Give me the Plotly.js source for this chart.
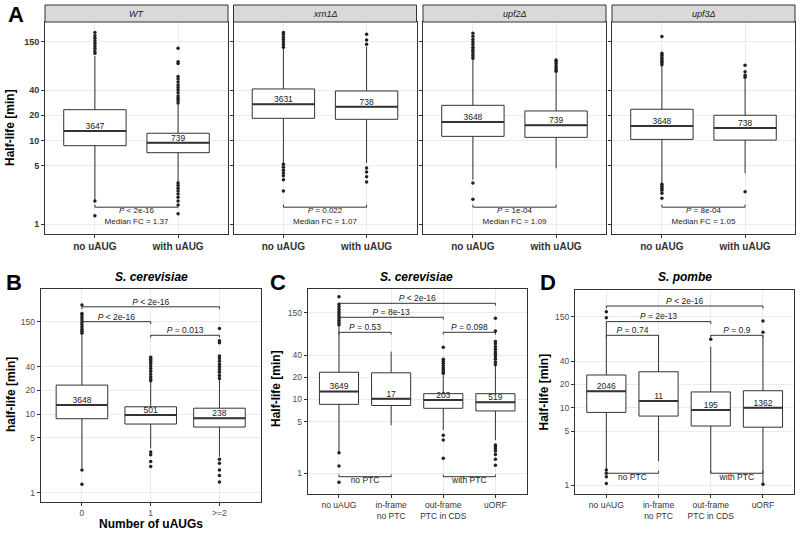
<!DOCTYPE html>
<html>
<head>
<meta charset="utf-8">
<script src="https://cdn.plot.ly/plotly-3.0.1.min.js"></script>
<style>body{margin:0;background:#fff;} #graph{width:800px;height:534px;}</style>
</head>
<body>
<div id="graph"></div>
<script>
var FONT = 'Liberation Sans, Arial, sans-serif';
var DARK = '#333333';
var GRID = '#EBEBEB';

var yTicks = [1, 5, 10, 20, 40, 150];

// panel A: uAUG vs no uAUG in four strains
var strains = ['WT', 'xrn1Δ', 'upf2Δ', 'upf3Δ'];
var catsA = ['no uAUG', 'with uAUG'];
var countsA = [[3647, 739], [3631, 738], [3648, 739], [3648, 738]];
var q1A = [[8.67, 7.15], [18.4, 17.9], [11.2, 10.9], [10.3, 10.1]];
var medA = [[13.0, 9.4], [27, 25.3], [16.6, 15.2], [14.9, 14.1]];
var q3A = [[23.3, 12.2], [41.2, 39], [26.3, 22.5], [23.6, 20]];
var loA = [[1.95, 3.2], [5.35, 5.4], [3.4, 4.66], [3.1, 4.06]];
var hiA = [[102, 27], [125, 132], [93, 65], [79, 55]];
var outA = [
    [[110, 117, 126, 135, 145, 155, 166, 178, 195, 1.89, 1.26],
     [28, 30, 32, 34, 37, 40, 43, 46, 50, 54, 58, 83, 87, 126, 3.1, 2.9, 2.7, 2.5, 2.3, 2.1, 1.9, 1.7, 1.34]],
    [[130, 140, 150, 160, 172, 185, 195, 5.2, 4.8, 4.4, 4.1, 3.8, 3.4, 2.5],
     [141, 158, 185, 4.7, 4.2, 3.7, 3.2]],
    [[96, 102, 108, 115, 122, 130, 140, 150, 160, 175, 190, 3.1, 1.99],
     [67, 70, 74, 78, 83, 88, 91]],
    [[80, 84, 88, 93, 98, 104, 110, 174, 3.0, 2.85, 2.7, 2.55, 2.35, 2.05],
     [57, 60, 66, 79, 2.45]]
];
var pA = ['< 2e-16', '= 0.022', '= 1e-04', '= 8e-04'];
var fcA = ['1.37', '1.07', '1.09', '1.05'];
var sigYA = 1.6;

// panel B: number of uAUGs
var catsB = ['0', '1', '>=2'];
var countsB = [3648, 501, 238];
var q1B = [8.74, 7.48, 6.85];
var medB = [13.1, 9.75, 8.85];
var q3B = [23.4, 12.4, 11.9];
var loB = [2.04, 3.67, 2.87];
var hiB = [101, 25.7, 27.5];
var outB = [
    [107, 113, 120, 128, 137, 147, 158, 170, 183, 191, 244, 1.95, 1.28],
    [26.5, 28, 30, 32.5, 35, 38, 41, 44, 47, 50, 53, 3.3, 3.05, 2.5, 2.15],
    [28.5, 31, 34, 37, 40, 43, 47, 51, 55, 81, 86, 123, 2.66, 2.37, 1.95, 1.66, 1.37]
];
var sigB = [[0, 2, 232, '< 2e-16'], [0, 1, 150, '< 2e-16'], [1, 2, 100.7, '= 0.013']];

// panel C: S. cerevisiae uAUG classes
var catsCD = ['no uAUG', 'in-frame<br>no PTC', 'out-frame<br>PTC in CDS', 'uORF'];
var countsC = [3649, 17, 203, 519];
var q1C = [8.6, 8.3, 7.6, 7.0];
var medC = [12.8, 10.2, 9.84, 9.17];
var q3C = [23.4, 23, 12, 12];
var loC = [1.96, 4.5, 3.86, 2.82];
var hiC = [100, 44.5, 21.9, 28.8];
var outC = [
    [103, 110, 118, 126, 135, 145, 155, 167, 180, 195, 247, 1.9, 1.26, 0.76],
    [],
    [22.6, 24, 25.5, 27, 29, 31, 33, 35, 51, 3.27, 2.83, 1.6],
    [29.5, 32, 35, 38, 41, 44, 48, 52, 57, 61, 85, 126, 2.42, 2.3, 2.15, 2.0, 1.8, 1.55, 1.29]
];
var sigC = [[0, 3, 201, '< 2e-16'], [0, 2, 130, '= 8e-13'], [0, 1, 81.4, '= 0.53'], [2, 3, 81.4, '= 0.098']];
var groupC = [[0, 1, 0.9, 'no PTC'], [2, 3, 0.9, 'with PTC']];

// panel D: S. pombe uAUG classes
var countsD = [2046, 11, 195, 1362];
var q1D = [8.7, 7.8, 5.8, 5.6];
var medD = [16.3, 12.2, 9.34, 10];
var q3D = [26.5, 29.2, 16, 16.6];
var loD = [1.6, 2.04, 1.42, 1.05];
var hiD = [124, 86.5, 61.5, 86.5];
var outD = [
    [175, 146, 1.56, 1.42, 1.28, 1.05],
    [],
    [76.7],
    [132, 95, 1.02]
];
var sigD = [[0, 3, 207, '< 2e-16'], [0, 2, 130, '= 2e-13'], [0, 1, 86.5, '= 0.74'], [2, 3, 86.5, '= 0.9']];
var groupD = [[0, 1, 1.42, 'no PTC'], [2, 3, 1.42, 'with PTC']];

function px(x) { return x / 800; }
function py(y) { return 1 - y / 534; }

var data = [];
var tip = Math.pow(10, 0.03);

function addBoxes(n, q1, med, q3, lo, hi, outs, counts, textSize) {
    var xa = 'x' + (n > 1 ? n : '');
    var ya = 'y' + (n > 1 ? n : '');
    var idx = q1.map(function (v, i) { return i; });
    data.push({
        type: 'box', xaxis: xa, yaxis: ya, x: idx,
        q1: q1, median: med, q3: q3, lowerfence: lo, upperfence: hi,
        width: 0.75, whiskerwidth: 0, boxpoints: false,
        fillcolor: 'white', line: {color: DARK, width: 1}, hoverinfo: 'skip'
    });
    var mx = [], my = [];
    for (var i = 0; i < idx.length; i++) {
        mx.push(i - 0.375, i + 0.375, null);
        my.push(med[i], med[i], null);
    }
    data.push({type: 'scatter', mode: 'lines', xaxis: xa, yaxis: ya, x: mx, y: my,
        line: {color: DARK, width: 2}, hoverinfo: 'skip'});
    var ox = [], oy = [];
    outs.forEach(function (arr, i) {
        arr.forEach(function (v) { ox.push(i); oy.push(v); });
    });
    data.push({type: 'scatter', mode: 'markers', xaxis: xa, yaxis: ya, x: ox, y: oy,
        marker: {color: '#222', size: 3.5}, hoverinfo: 'skip', cliponaxis: false});
    data.push({type: 'scatter', mode: 'text', xaxis: xa, yaxis: ya, x: idx, y: med,
        text: counts.map(String), textposition: 'top center',
        textfont: {family: FONT, size: textSize, color: '#222'}, hoverinfo: 'skip'});
}

function addBracket(n, i0, i1, y, label, up, size) {
    var xa = 'x' + (n > 1 ? n : '');
    var ya = 'y' + (n > 1 ? n : '');
    var t = up ? y * tip : y / tip;
    data.push({type: 'scatter', mode: 'lines', xaxis: xa, yaxis: ya,
        x: [i0, i0, i1, i1], y: [t, y, y, t],
        line: {color: DARK, width: 1}, hoverinfo: 'skip', cliponaxis: false});
    data.push({type: 'scatter', mode: 'text', xaxis: xa, yaxis: ya,
        x: [(i0 + i1) / 2], y: [y], text: [label],
        textposition: up ? 'bottom center' : 'top center',
        textfont: {family: FONT, size: size, color: '#222'}, hoverinfo: 'skip', cliponaxis: false});
}

for (var k = 0; k < 4; k++) {
    addBoxes(k + 1, q1A[k], medA[k], q3A[k], loA[k], hiA[k], outA[k], countsA[k], 8.5);
    addBracket(k + 1, 0, 1, sigYA, '<i>P</i> ' + pA[k] + '<br>Median FC = ' + fcA[k], true, 8);
}
addBoxes(5, q1B, medB, q3B, loB, hiB, outB, countsB, 8.5);
sigB.forEach(function (s) { addBracket(5, s[0], s[1], s[2], '<i>P</i> ' + s[3], false, 8.5); });
addBoxes(6, q1C, medC, q3C, loC, hiC, outC, countsC, 8.5);
sigC.forEach(function (s) { addBracket(6, s[0], s[1], s[2], '<i>P</i> ' + s[3], false, 8.5); });
groupC.forEach(function (s) { addBracket(6, s[0], s[1], s[2], s[3], true, 8.5); });
addBoxes(7, q1D, medD, q3D, loD, hiD, outD, countsD, 8.5);
sigD.forEach(function (s) { addBracket(7, s[0], s[1], s[2], '<i>P</i> ' + s[3], false, 8.5); });
groupD.forEach(function (s) { addBracket(7, s[0], s[1], s[2], s[3], true, 8.5); });

function xAxis(left, right, yName, cats, font) {
    return {
        domain: [px(left), px(right)], anchor: yName, type: 'linear',
        range: [-0.6, cats.length - 0.4],
        tickvals: cats.map(function (c, i) { return i; }), ticktext: cats,
        showgrid: true, gridcolor: GRID, gridwidth: 1, zeroline: false,
        showline: true, mirror: true, linecolor: DARK, linewidth: 1,
        ticks: 'outside', ticklen: 3, tickcolor: DARK, tickfont: font, fixedrange: true
    };
}
function yAxis(top, bottom, xName, range, font, showLabels) {
    return {
        domain: [py(bottom), py(top)], anchor: xName, type: 'log', range: range,
        tickvals: yTicks, ticktext: yTicks.map(String), showticklabels: showLabels,
        showgrid: true, gridcolor: GRID, gridwidth: 1, zeroline: false,
        showline: true, mirror: true, linecolor: DARK, linewidth: 1,
        ticks: 'outside', ticklen: 3, tickcolor: DARK, tickfont: font, fixedrange: true
    };
}

var fontA = {family: FONT, size: 10, color: '#333', weight: 'bold'};
var fontAy = {family: FONT, size: 9, color: '#333', weight: 'bold'};
var fontSmall = {family: FONT, size: 8.5, color: '#4D4D4D'};

var panelsA = [[45, 228], [233.5, 416.5], [423, 606], [612, 795]];

var layout = {
    width: 800, height: 534,
    margin: {l: 0, r: 0, t: 0, b: 0},
    paper_bgcolor: 'white', plot_bgcolor: 'white',
    showlegend: false,
    font: {family: FONT, color: '#222'},
    shapes: [], annotations: []
};

for (k = 0; k < 4; k++) {
    var sfx = k > 0 ? String(k + 1) : '';
    layout['xaxis' + sfx] = xAxis(panelsA[k][0], panelsA[k][1], 'y' + sfx, catsA, fontA);
    layout['yaxis' + sfx] = yAxis(22, 234, 'x' + sfx, [-0.116, 2.414], fontAy, k === 0);
    layout.shapes.push({type: 'rect', xref: 'paper', yref: 'paper',
        x0: px(panelsA[k][0]), x1: px(panelsA[k][1]), y0: py(22), y1: py(5),
        fillcolor: '#D9D9D9', line: {color: DARK, width: 1}, layer: 'above'});
    layout.annotations.push({xref: 'paper', yref: 'paper', xanchor: 'center', yanchor: 'middle',
        x: px((panelsA[k][0] + panelsA[k][1]) / 2), y: py(13.5), showarrow: false,
        text: '<i>' + strains[k] + '</i>', font: {family: FONT, size: 9, color: '#1A1A1A'}});
}
layout.xaxis5 = xAxis(40.7, 260.7, 'y5', catsB, fontSmall);
layout.yaxis5 = yAxis(289, 502, 'x5', [-0.118, 2.592], fontSmall, true);
layout.xaxis6 = xAxis(307.7, 526.7, 'y6', catsCD, {family: FONT, size: 8.5, color: '#333'});
layout.yaxis6 = yAxis(289, 494, 'x6', [-0.28, 2.497], fontSmall, true);
layout.xaxis7 = xAxis(575, 794.3, 'y7', catsCD, {family: FONT, size: 8.5, color: '#333'});
layout.yaxis7 = yAxis(290, 494, 'x7', [-0.116, 2.523], fontSmall, true);

function note(x, y, text, size, extra) {
    var a = {xref: 'paper', yref: 'paper', x: px(x), y: py(y), showarrow: false,
        xanchor: 'center', yanchor: 'middle',
        text: text, font: {family: FONT, size: size, color: '#000', weight: 'bold'}};
    for (var key in extra) { a[key] = extra[key]; }
    layout.annotations.push(a);
}
note(16, 15, 'A', 22);
note(13.5, 282, 'B', 22);
note(278, 282, 'C', 22);
note(548, 282, 'D', 22);
note(151.7, 277, '<i>S. cerevisiae</i>', 12);
note(416.7, 277, '<i>S. cerevisiae</i>', 12);
note(685, 277, '<i>S. pombe</i>', 12);
note(10, 128, 'Half-life [min]', 12, {textangle: -90});
note(11, 395, 'half-life [min]', 12, {textangle: -90});
note(276, 389, 'Half-life [min]', 12, {textangle: -90});
note(543.5, 392, 'Half-life [min]', 12, {textangle: -90});
note(151, 524, 'Number of uAUGs', 12);

Plotly.newPlot('graph', data, layout, {staticPlot: true});
</script>
</body>
</html>
